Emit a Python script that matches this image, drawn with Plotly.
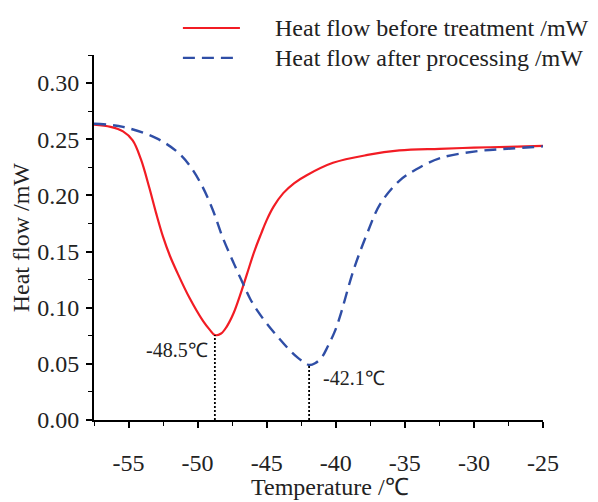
import plotly.graph_objects as go

# ---- data ----
red_T = [-57.5, -56.3, -55.4, -54.7, -54.1, -53.5, -53.0, -52.5, -52.0, -51.5, -50.6,
         -49.6, -49.1, -48.75, -48.3, -47.9, -47.4, -46.9, -46.4, -45.9, -45.4, -45.0,
         -44.5, -43.8, -43.0, -42.1, -40.2, -37.7, -35.4, -32.5, -30.0, -27.5, -25.0]
red_V = [0.263, 0.261, 0.257, 0.249, 0.232, 0.207, 0.184, 0.163, 0.146, 0.132, 0.109,
         0.088, 0.080, 0.0756, 0.077, 0.083, 0.095, 0.112, 0.131, 0.150, 0.166, 0.178,
         0.190, 0.202, 0.211, 0.218, 0.229, 0.236, 0.240, 0.2415, 0.2425, 0.2432, 0.244]

blue_T = [-57.5, -55.4, -53.0, -51.5, -50.6, -49.7, -48.9, -48.2, -47.4, -46.7, -46.2,
          -45.6, -45.0, -44.3, -43.55, -42.8, -42.3, -41.93, -41.5, -41.0, -40.6, -40.1,
          -39.7, -38.7, -37.7, -36.8, -35.4, -34.2, -32.5, -30.0, -27.6, -25.0]
blue_V = [0.2638, 0.261, 0.251, 0.239, 0.227, 0.209, 0.187, 0.163, 0.140, 0.121, 0.108,
          0.096, 0.086, 0.0755, 0.065, 0.056, 0.0515, 0.049, 0.0505, 0.056, 0.065, 0.078,
          0.092, 0.134, 0.167, 0.192, 0.213, 0.223, 0.233, 0.239, 0.2415, 0.2436]

peak_T = [-48.75, -41.93]
peak_V = [0.0756, 0.049]
peak_labels = ["-48.5\u2103", "-42.1\u2103"]

series_names = ["Heat flow before treatment /mW", "Heat flow after processing /mW"]
x_ticks = [-55, -50, -45, -40, -35, -30, -25]
y_ticks = [0.00, 0.05, 0.10, 0.15, 0.20, 0.25, 0.30]

RED = "#F21C24"
BLUE = "#2F4EA6"
FONT = "Liberation Serif"
TXT = "#222"

fig = go.Figure()
fig.add_trace(go.Scatter(x=red_T, y=red_V, mode="lines", name=series_names[0],
                         line=dict(color=RED, width=2.2, shape="spline", smoothing=1.0),
                         showlegend=False))
fig.add_trace(go.Scatter(x=blue_T, y=blue_V, mode="lines", name=series_names[1],
                         line=dict(color=BLUE, width=2.4, dash="12px,7px", shape="spline", smoothing=1.0),
                         showlegend=False))
for t, v in zip(peak_T, peak_V):
    fig.add_trace(go.Scatter(x=[t, t], y=[0, v], mode="lines",
                             line=dict(color="black", width=1.8, dash="2px,2px"),
                             showlegend=False, hoverinfo="skip"))

# peak labels
fig.add_annotation(x=peak_T[0] - 0.35, y=peak_V[0] - 0.013, text=peak_labels[0],
                   showarrow=False, xanchor="right", yanchor="middle",
                   font=dict(family=FONT, size=20, color=TXT))
fig.add_annotation(x=peak_T[1] + 0.85, y=peak_V[1] - 0.0116, text=peak_labels[1],
                   showarrow=False, xanchor="left", yanchor="middle",
                   font=dict(family=FONT, size=20, color=TXT))

# manual legend
leg_y = [1.074, 0.992]
leg_col = [RED, BLUE]
leg_dash = ["solid", "12px,7px"]
for yy, c, d, name in zip(leg_y, leg_col, leg_dash, series_names):
    fig.add_shape(type="line", xref="paper", yref="paper", x0=0.198, x1=0.325, y0=yy, y1=yy,
                  line=dict(color=c, width=2.2, dash=d))
    fig.add_annotation(xref="paper", yref="paper", x=0.398, y=yy, text=name, showarrow=False,
                       xanchor="left", yanchor="middle",
                       font=dict(family=FONT, size=24, color=TXT))

# axis titles
fig.add_annotation(xref="paper", yref="paper", x=0.525, y=-0.183, text="Temperature /\u2103",
                   showarrow=False, xanchor="center", yanchor="middle",
                   font=dict(family=FONT, size=24, color=TXT))
fig.add_annotation(xref="paper", yref="paper", x=-0.163, y=0.5, text="Heat flow /mW",
                   showarrow=False, xanchor="center", yanchor="middle", textangle=-90,
                   font=dict(family=FONT, size=24, color=TXT))

axis_common = dict(showgrid=False, zeroline=False, showline=True, linecolor="black", linewidth=2,
                   ticks="outside", ticklen=6, tickwidth=1.6, tickcolor="black",
                   tickfont=dict(family=FONT, size=24, color=TXT))
fig.update_xaxes(range=[-57.5, -25], tickvals=x_ticks, ticktext=[str(v) for v in x_ticks],
                 ticklabelstandoff=14,
                 minor=dict(dtick=2.5, tick0=-55, ticks="outside", ticklen=4, tickwidth=1.4, tickcolor="black"),
                 **axis_common)
fig.update_yaxes(range=[0, 0.325], tickvals=y_ticks, ticktext=[f"{v:.2f}" for v in y_ticks],
                 ticklabelstandoff=2,
                 minor=dict(dtick=0.025, tick0=0, ticks="outside", ticklen=4, tickwidth=1.4, tickcolor="black"),
                 **axis_common)

fig.update_layout(width=598, height=502, margin=dict(l=94, r=55, t=55, b=82),
                  paper_bgcolor="white", plot_bgcolor="white", showlegend=False)

fig.write_html("out.html")
